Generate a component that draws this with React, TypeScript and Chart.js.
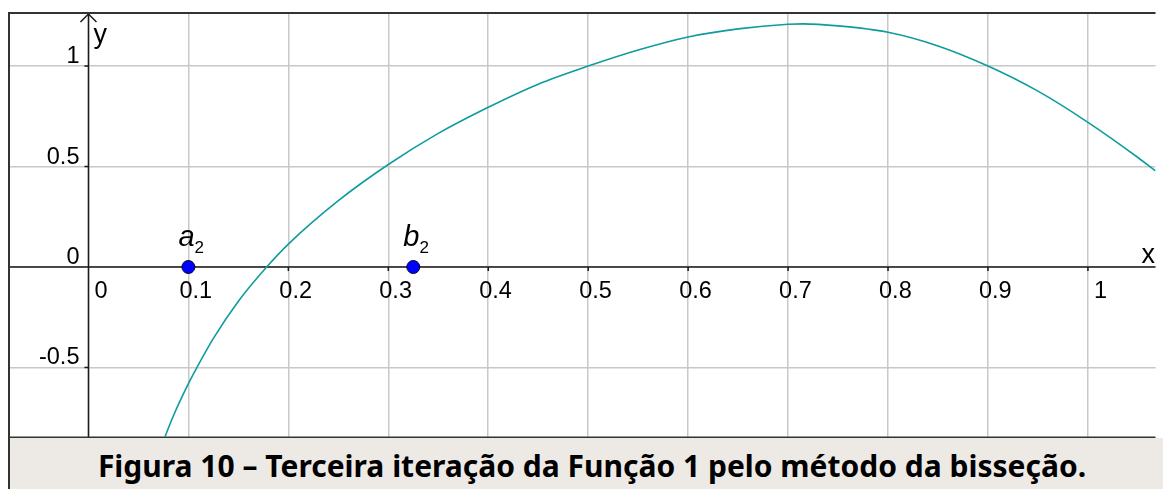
import React, { useEffect, useRef } from "react";
import { Chart, registerables } from "chart.js";
Chart.register(...registerables);

// Function curve
const curveX = [0.0765, 0.085, 0.1, 0.1085, 0.125, 0.15, 0.1783, 0.2, 0.25, 0.3, 0.35, 0.4, 0.45, 0.5, 0.55, 0.6, 0.65, 0.7, 0.715, 0.75, 0.8, 0.85, 0.9, 0.95, 1.0, 1.05, 1.0676];
const curveY = [-0.846, -0.74, -0.58, -0.5, -0.355, -0.17, 0, 0.114, 0.33, 0.51, 0.665, 0.795, 0.91, 1.0, 1.08, 1.145, 1.185, 1.208, 1.21, 1.2, 1.168, 1.1, 1.0, 0.875, 0.72, 0.545, 0.478];

// Bisection points
const pointNames = ["a", "b"];
const pointSubs = ["2", "2"];
const pointX = [0.1, 0.325];
const pointY = [0, 0];

// Axes
const xTickValues = [0, 0.1, 0.2, 0.3, 0.4, 0.5, 0.6, 0.7, 0.8, 0.9, 1];
const xTickLabels = ["0", "0.1", "0.2", "0.3", "0.4", "0.5", "0.6", "0.7", "0.8", "0.9", "1"];
const yTickValues = [-0.5, 0, 0.5, 1];
const yTickLabels = ["-0.5", "0", "0.5", "1"];
const xRange = [-0.0805, 1.0676];
const yRange = [-0.846, 1.264];

const caption = "Figura 10 – Terceira iteração da Função 1 pelo método da bisseção.";

const W = 1163;
const H = 489;

const overlay = {
  id: "ggbOverlay",
  beforeDatasetsDraw(chart: any) {
    const ctx = chart.ctx;
    const xs = chart.scales.x;
    const ys = chart.scales.y;
    const area = chart.chartArea;
    const x0 = xs.getPixelForValue(0);
    const y0 = ys.getPixelForValue(0);
    ctx.save();
    ctx.strokeStyle = "#1a1a1a";
    ctx.lineWidth = 1.5;
    // x axis
    ctx.beginPath();
    ctx.moveTo(area.left, y0);
    ctx.lineTo(area.right, y0);
    ctx.stroke();
    // y axis
    ctx.beginPath();
    ctx.moveTo(x0, area.bottom);
    ctx.lineTo(x0, area.top + 1);
    ctx.stroke();
    // arrow
    ctx.beginPath();
    ctx.moveTo(x0 - 8, area.top + 9);
    ctx.lineTo(x0, area.top + 1);
    ctx.lineTo(x0 + 8, area.top + 9);
    ctx.stroke();
    // ticks
    xTickValues.forEach((v) => {
      if (v === 0) return;
      const px = xs.getPixelForValue(v);
      ctx.beginPath();
      ctx.moveTo(px, y0);
      ctx.lineTo(px, y0 + 4);
      ctx.stroke();
    });
    yTickValues.forEach((v) => {
      if (v === 0) return;
      const py = ys.getPixelForValue(v);
      ctx.beginPath();
      ctx.moveTo(x0, py);
      ctx.lineTo(x0 - 4, py);
      ctx.stroke();
    });
    // tick labels
    ctx.fillStyle = "#000";
    ctx.font = '23.5px "Liberation Sans", Arial, sans-serif';
    ctx.textBaseline = "alphabetic";
    ctx.textAlign = "left";
    xTickValues.forEach((v, i) => {
      const px = xs.getPixelForValue(v);
      const lab = xTickLabels[i];
      const left = lab.indexOf(".") >= 0 ? px - 9 : px + 6;
      ctx.fillText(lab, left, y0 + 31);
    });
    ctx.textAlign = "right";
    yTickValues.forEach((v, i) => {
      const py = ys.getPixelForValue(v);
      ctx.fillText(yTickLabels[i], x0 - 9, py - 3);
    });
    // axis names
    ctx.textAlign = "left";
    ctx.font = '27px "Liberation Sans", Arial, sans-serif';
    ctx.fillText("y", x0 + 5, area.top + 30);
    ctx.fillText("x", area.right - 14, y0 - 4);
    // frame
    ctx.strokeStyle = "#333";
    ctx.lineWidth = 2;
    ctx.beginPath();
    ctx.moveTo(area.left + 1, H);
    ctx.lineTo(area.left + 1, area.top);
    ctx.lineTo(area.right, area.top);
    ctx.stroke();
    ctx.beginPath();
    ctx.moveTo(area.left, area.bottom + 0.5);
    ctx.lineTo(area.right, area.bottom + 0.5);
    ctx.stroke();
    ctx.restore();
  },
  afterDatasetsDraw(chart: any) {
    const ctx = chart.ctx;
    const xs = chart.scales.x;
    const ys = chart.scales.y;
    ctx.save();
    ctx.fillStyle = "#000";
    ctx.textBaseline = "alphabetic";
    ctx.textAlign = "left";
    pointNames.forEach((n, i) => {
      const px = xs.getPixelForValue(pointX[i]);
      const py = ys.getPixelForValue(pointY[i]);
      ctx.font = 'italic 29px "Liberation Sans", Arial, sans-serif';
      const left = px - 10;
      ctx.fillText(n, left, py - 21);
      const w = ctx.measureText(n).width;
      ctx.font = '17px "Liberation Sans", Arial, sans-serif';
      ctx.fillText(pointSubs[i], left + w, py - 14);
    });
    ctx.restore();
  },
};

export default function App() {
  const ref = useRef<HTMLCanvasElement | null>(null);
  useEffect(() => {
    if (!ref.current) return;
    const chart = new Chart(ref.current, {
      type: "line",
      data: {
        datasets: [
          {
            label: "f",
            data: curveX.map((x, i) => ({ x, y: curveY[i] })),
            borderColor: "#0e9c9c",
            borderWidth: 1.6,
            pointRadius: 0,
            cubicInterpolationMode: "monotone",
            fill: false,
          },
          {
            label: "pts",
            type: "scatter",
            data: pointX.map((x, i) => ({ x, y: pointY[i] })),
            backgroundColor: "#0000ff",
            borderColor: "#000033",
            borderWidth: 1,
            pointRadius: 6.5,
          } as any,
        ],
      },
      options: {
        responsive: false,
        animation: false,
        events: [],
        layout: { padding: { left: 8, top: 13, right: 0, bottom: H - 437 } },
        plugins: { legend: { display: false }, tooltip: { enabled: false } },
        scales: {
          x: {
            type: "linear",
            min: xRange[0],
            max: xRange[1],
            afterBuildTicks: (s: any) => {
              s.ticks = xTickValues.map((v) => ({ value: v }));
            },
            ticks: { display: false },
            grid: { color: "#c8c8c8", lineWidth: 1.5, drawTicks: false },
            border: { display: false },
          },
          y: {
            type: "linear",
            min: yRange[0],
            max: yRange[1],
            afterBuildTicks: (s: any) => {
              s.ticks = yTickValues.map((v) => ({ value: v }));
            },
            ticks: { display: false },
            grid: { color: "#c8c8c8", lineWidth: 1.5, drawTicks: false },
            border: { display: false },
          },
        },
      },
      plugins: [overlay],
    });
    return () => chart.destroy();
  }, []);
  return (
    <div style={{ position: "absolute", left: 0, top: 0, width: W, height: H, background: "#fff" }}>
      <canvas ref={ref} width={W} height={H} style={{ position: "absolute", left: 0, top: 0 }} />
      <div
        style={{
          position: "absolute",
          left: 10,
          top: 438,
          width: W - 10,
          height: H - 438,
          boxSizing: "border-box",
          background: "#edeae6",
          paddingTop: 5,
          paddingLeft: 11,
          lineHeight: "46px",
          textAlign: "center",
          fontFamily: '"Noto Sans", sans-serif',
          fontWeight: 700,
          fontSize: 30,
          color: "#000",
          overflow: "hidden",
          whiteSpace: "nowrap",
        }}
      >
        {caption}
      </div>
    </div>
  );
}
